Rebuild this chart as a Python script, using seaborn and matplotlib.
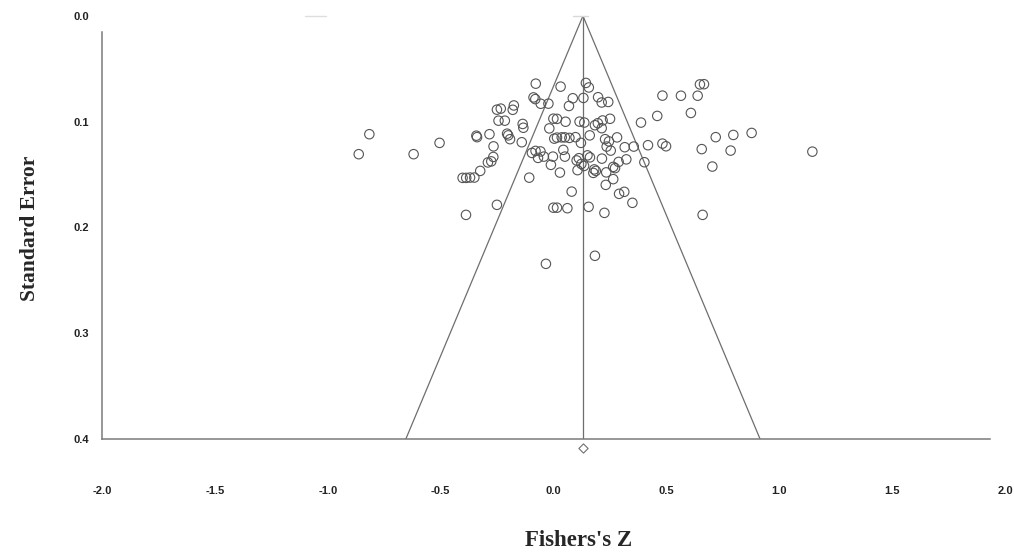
import matplotlib
matplotlib.use("Agg")
import matplotlib.pyplot as plt
import seaborn as sns
import numpy as np
import pandas as pd

# ---- data (Fisher's Z, standard error) ----
fisher_z = [
    -0.863, -0.816, -0.620, -0.505, -0.388, -0.251,
    -0.403, -0.387, -0.370, -0.351, -0.325, -0.291, -0.276, -0.267, -0.266,
    -0.342, -0.339, -0.284, -0.251, -0.234, -0.244, -0.216, -0.176, -0.181,
    -0.206, -0.201, -0.193, -0.137, -0.134, -0.141, -0.108,
    -0.079, -0.089, -0.081, -0.057, -0.023, -0.096, -0.080, -0.058, -0.069,
    -0.043, -0.003, -0.012, -0.019, -0.001, 0.015, 0.003, 0.015, -0.001, 0.015,
    0.031, 0.143, 0.156, 0.085, 0.068, 0.132, 0.197, 0.213, 0.242,
    0.053, 0.115, 0.136, 0.183, 0.196, 0.217, 0.250, 0.213, 0.160,
    0.036, 0.050, 0.070, 0.097, 0.121, 0.228, 0.245, 0.235, 0.253, 0.281,
    0.315, 0.355, 0.418, 0.482, 0.498, 0.387, 0.459, 0.482, 0.564, 0.638,
    0.648, 0.666, 0.608, 0.718, 0.796, 0.877, 0.656, 0.784, 1.146, 0.703, 0.660,
    0.043, 0.050, 0.028, 0.102, 0.112, 0.123, 0.135, 0.150, 0.161, 0.106,
    0.180, 0.187, 0.176, 0.214, 0.233, 0.264, 0.272, 0.288, 0.322, 0.402,
    0.264, 0.231, 0.080, 0.290, 0.313, 0.349, 0.061, 0.155, 0.225,
    -0.034, 0.183,
]
std_error = [
    0.1308, 0.1119, 0.1308, 0.1201, 0.1882, 0.1787,
    0.1532, 0.1532, 0.1529, 0.1529, 0.1466, 0.1386, 0.1376, 0.1334, 0.1234,
    0.1133, 0.1147, 0.1119, 0.0887, 0.0877, 0.0991, 0.0991, 0.0847, 0.0888,
    0.1114, 0.1130, 0.1166, 0.1022, 0.1058, 0.1195, 0.1530,
    0.0641, 0.0771, 0.0787, 0.0831, 0.0830, 0.1296, 0.1277, 0.1282, 0.1343,
    0.1331, 0.1331, 0.1409, 0.1064, 0.0972, 0.0974, 0.1161, 0.1151, 0.1814, 0.1814,
    0.0669, 0.0634, 0.0677, 0.0779, 0.0852, 0.0776, 0.0769, 0.0819, 0.0814,
    0.1001, 0.1000, 0.1009, 0.1034, 0.1015, 0.0989, 0.0973, 0.1062, 0.1130,
    0.1149, 0.1149, 0.1154, 0.1147, 0.1201, 0.1166, 0.1187, 0.1236, 0.1274, 0.1149,
    0.1242, 0.1236, 0.1223, 0.1208, 0.1233, 0.1009, 0.0946, 0.0754, 0.0755, 0.0755,
    0.0648, 0.0646, 0.0918, 0.1147, 0.1126, 0.1107, 0.1260, 0.1274, 0.1284, 0.1425, 0.1882,
    0.1267, 0.1331, 0.1482, 0.1367, 0.1346, 0.1400, 0.1419, 0.1319, 0.1338, 0.1459,
    0.1452, 0.1466, 0.1485, 0.1350, 0.1480, 0.1428, 0.1440, 0.1381, 0.1357, 0.1384,
    0.1544, 0.1598, 0.1662, 0.1683, 0.1664, 0.1768, 0.1819, 0.1806, 0.1863,
    0.2345, 0.2269,
]
pooled_z = 0.13
max_se = 0.40
pooled_marker_se = 0.4085
x_ticks = [-2.0, -1.5, -1.0, -0.5, 0.0, 0.5, 1.0, 1.5, 2.0]
y_ticks = [0.0, 0.1, 0.2, 0.3, 0.4]
x_label = "Fishers's Z"
y_label = "Standard Error"

df = pd.DataFrame({"z": fisher_z, "se": std_error})

sns.set_theme(style="white")
plt.rcParams["font.family"] = ["Liberation Sans", "DejaVu Sans"]

W, H = 1014, 552
fig = plt.figure(figsize=(W / 100, H / 100), dpi=100)
ax = fig.add_axes([102 / W, 1 - 438.8 / H, (1005.2 - 102) / W, (438.8 - 15.9) / H])

axis_col = "#7a7a7a"
line_col = "#6e6e6e"

# funnel
se_line = np.array([0.0, max_se])
ax.plot(pooled_z - 1.96 * se_line, se_line, color=line_col, lw=0.9, zorder=2)
ax.plot(pooled_z + 1.96 * se_line, se_line, color=line_col, lw=0.9, zorder=2)
ax.plot([pooled_z, pooled_z], [0.0, max_se], color=line_col, lw=0.9, zorder=2)
# faint marks at the top
ax.plot([pooled_z - 0.045, pooled_z + 0.022], [0.0, 0.0], color="#d8d8d8", lw=1.0, clip_on=False)
ax.plot([-1.10, -1.01], [0.0, 0.0], color="#dedede", lw=1.0, clip_on=False)

sns.scatterplot(data=df, x="z", y="se", ax=ax, marker="o", s=46,
                facecolors="none", edgecolor="#555555", linewidth=0.8, zorder=3)

ax.scatter([pooled_z], [pooled_marker_se], marker="D", s=22, facecolors="white",
           edgecolors="#707070", linewidths=0.8, clip_on=False, zorder=4)

ax.set_xlim(-2.0, 2.0)
ax.set_ylim(max_se, 0.0)
ax.set_xticks(x_ticks)
ax.set_yticks(y_ticks)
ax.set_xticklabels([f"{t:.1f}" for t in x_ticks], fontsize=8, fontweight="bold", color="#222222")
ax.set_yticklabels([f"{t:.1f}" for t in y_ticks], fontsize=8, fontweight="bold", color="#222222")
ax.set_xlabel("")
ax.set_ylabel("")

for s in ["top", "right"]:
    ax.spines[s].set_visible(False)
for s in ["left", "bottom"]:
    ax.spines[s].set_color(axis_col)
    ax.spines[s].set_linewidth(1.1)
ax.spines["left"].set_bounds(0.015, max_se)
ax.spines["bottom"].set_bounds(-2.0, 1.933)

ax.tick_params(axis="x", direction="in", length=3, width=0.9, color=axis_col, pad=34)
ax.tick_params(axis="y", direction="in", length=3, width=0.9, color=axis_col, pad=9)
ax.xaxis.get_major_ticks()[-1].tick1line.set_visible(False)
ax.yaxis.get_major_ticks()[0].tick1line.set_visible(False)
ax.grid(False)

fig.text(579 / W, 1 - 540 / H, x_label, ha="center", va="center", fontsize=16.5,
         fontweight="bold", family=["Liberation Serif", "DejaVu Serif"])
fig.text(30 / W, 1 - 228 / H, y_label, ha="center", va="center", rotation=90, fontsize=15.5,
         fontweight="bold", family=["Liberation Serif", "DejaVu Serif"])

fig.savefig("out.png", dpi=100, facecolor="white")
